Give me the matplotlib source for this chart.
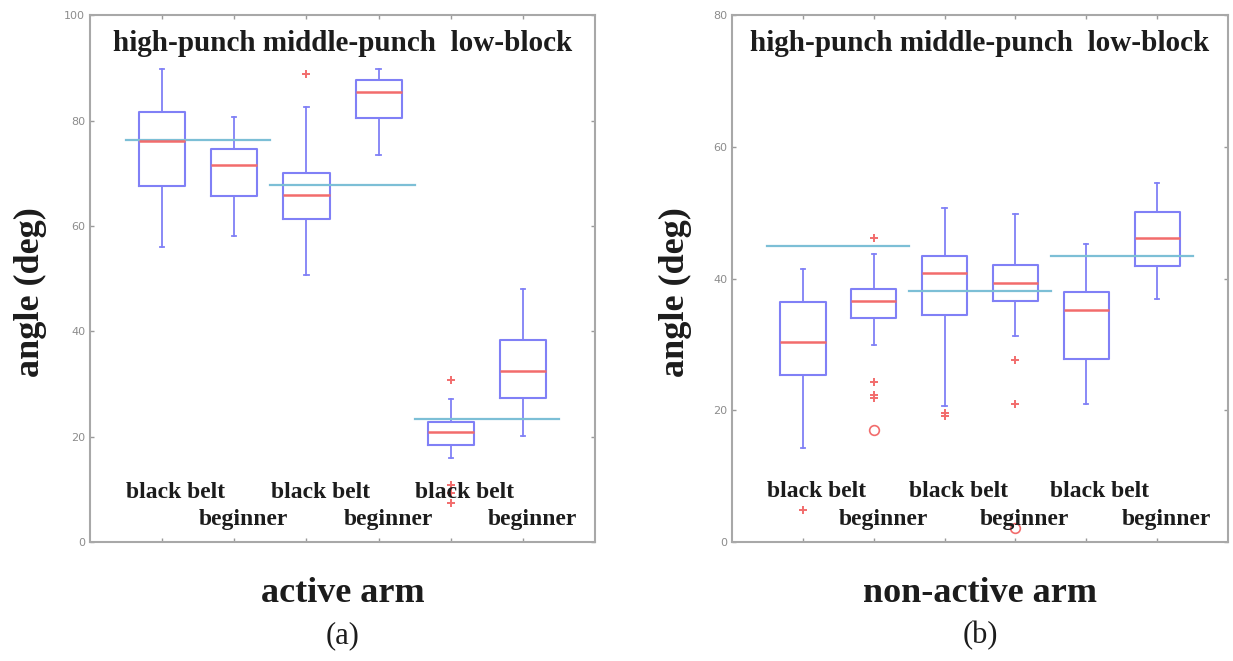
import numpy as np
import matplotlib
matplotlib.use('Agg')
import matplotlib.pyplot as plt

# five-number summaries: (whislo, q1, med, q3, whishi)
groups = ['high-punch', 'middle-punch', 'low-block']
levels = ['black belt', 'beginner']

active_stats = [
    (56.0, 67.6, 76.2, 81.6, 89.8),
    (58.1, 65.7, 71.6, 74.6, 80.6),
    (50.7, 61.4, 65.8, 70.0, 82.6),
    (73.4, 80.5, 85.5, 87.7, 89.8),
    (15.9, 18.5, 20.8, 22.8, 27.1),
    (20.2, 27.4, 32.5, 38.3, 48.0),
]
active_fliers = [[], [], [88.8], [], [30.7, 10.8, 9.3, 7.4], []]
active_circles = [[], [], [], [], [], []]
active_ref = [76.3, 67.7, 23.3]

nonactive_stats = [
    (14.3, 25.3, 30.4, 36.5, 41.5),
    (29.9, 34.0, 36.6, 38.4, 43.8),
    (20.7, 34.4, 40.9, 43.5, 50.7),
    (31.3, 36.6, 39.4, 42.1, 49.8),
    (20.9, 27.8, 35.2, 38.0, 45.2),
    (36.9, 41.9, 46.2, 50.1, 54.5),
]
nonactive_fliers = [[4.8], [46.1, 24.3, 22.4, 21.8], [19.6, 19.1], [27.6, 21.0], [], []]
nonactive_circles = [[], [17.0], [], [2.1], [], []]
nonactive_ref = [45.0, 38.1, 43.4]

BOX = '#8080f6'
MED = '#f26c6c'
REF = '#7cbfd6'
GRID = '#9a9a9a'
TXT = '#1c1c1c'
SERIF = 'Liberation Serif'


def panel(ax, stats, fliers, circles, ref, ymax, title_y, bb_y, beg_y, xlabel, tag, ylab_x):
    bxp_stats = []
    for (lo, q1, med, q3, hi), fl in zip(stats, fliers):
        bxp_stats.append(dict(whislo=lo, q1=q1, med=med, q3=q3, whishi=hi, fliers=fl))
    pos = np.arange(1, len(stats) + 1)
    ax.bxp(bxp_stats, positions=pos, widths=0.64, showfliers=True,
           boxprops=dict(color=BOX, lw=1.5),
           whiskerprops=dict(color=BOX, lw=1.3),
           capprops=dict(color=BOX, lw=1.3),
           medianprops=dict(color=MED, lw=1.8),
           flierprops=dict(marker='+', markeredgecolor=MED, markersize=6, mew=1.4),
           capwidths=0.06)
    for p, cs in zip(pos, circles):
        if cs:
            ax.plot([p] * len(cs), cs, 'o', mfc='none', mec=MED, ms=7, mew=1.2)

    # group reference lines
    for i, r in enumerate(ref):
        ax.plot([0.5 + 2 * i, 2.5 + 2 * i], [r, r], color=REF, lw=1.6)

    ax.set_xlim(0, 7)
    ax.set_ylim(0, ymax)
    ax.set_xticks(pos)
    ax.set_xticklabels([])
    ax.set_yticks(np.arange(0, ymax + 1, 20))
    ax.tick_params(direction='in', length=3, colors=GRID, labelcolor='#8c8c8c',
                   labelsize=8, top=True, right=True, width=1)
    for s in ax.spines.values():
        s.set_color('#a8a8a8')
        s.set_linewidth(1.5)

    ax.text(3.5, title_y, 'high-punch middle-punch  low-block', ha='center', va='center',
            family=SERIF, fontweight='bold', fontsize=21, color=TXT)
    for i in range(3):
        ax.text(1.19 + 2 * i, bb_y, levels[0], ha='center', va='center',
                family=SERIF, fontweight='bold', fontsize=17, color=TXT)
        ax.text(2.13 + 2 * i, beg_y, levels[1], ha='center', va='center',
                family=SERIF, fontweight='bold', fontsize=17, color=TXT)

    ax.set_xlabel(xlabel, family=SERIF, fontweight='bold', fontsize=26, color=TXT, labelpad=22)
    ax.set_ylabel('angle (deg)', family=SERIF, fontweight='bold', fontsize=26, color=TXT)
    ax.yaxis.set_label_coords(ylab_x, 0.475)
    ax.text(0.5, -0.177, tag, transform=ax.transAxes, ha='center', va='center',
            family=SERIF, fontsize=22, color=TXT)


fig = plt.figure(figsize=(12.33, 6.61), dpi=100)
ax1 = fig.add_axes([0.073, 0.180, 0.4096, 0.797])
ax2 = fig.add_axes([0.5937, 0.180, 0.4023, 0.797])

panel(ax1, active_stats, active_fliers, active_circles, active_ref, 100,
      94.6, 9.4, 4.2, 'active arm', '(a)', -0.085)
panel(ax2, nonactive_stats, nonactive_fliers, nonactive_circles, nonactive_ref, 80,
      75.7, 7.6, 3.4, 'non-active arm', '(b)', -0.08)

fig.savefig('out.png', dpi=100, facecolor='white')
